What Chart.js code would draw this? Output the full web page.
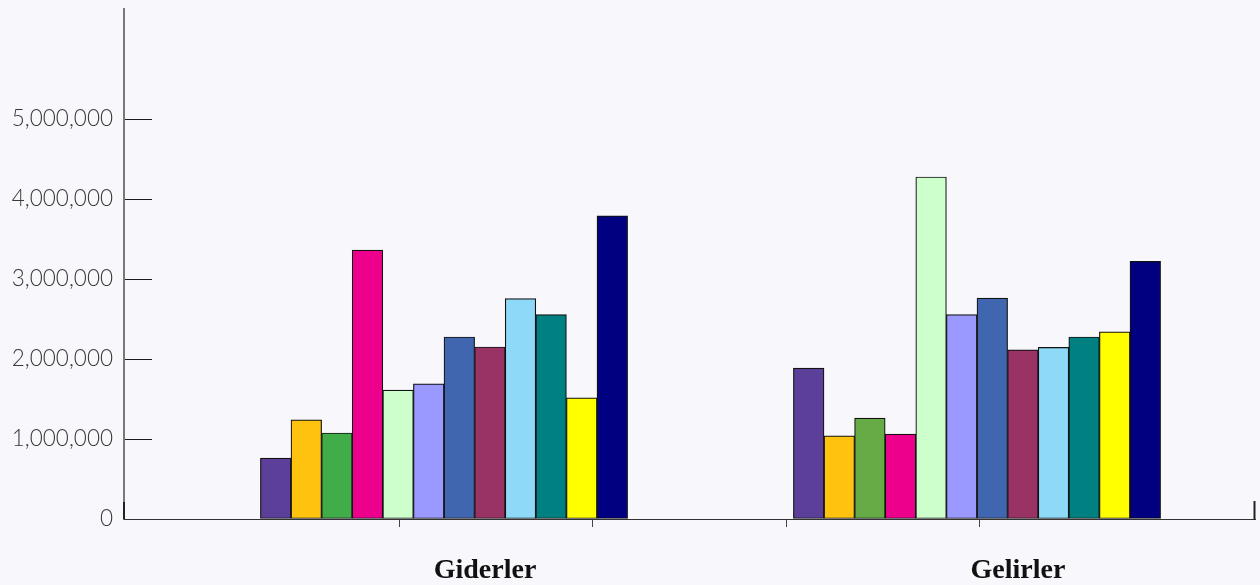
<!DOCTYPE html>
<html>
<head>
<meta charset="utf-8">
<script src="https://cdn.jsdelivr.net/npm/chart.js@4/dist/chart.umd.min.js"></script>
<style>
  html, body { margin: 0; padding: 0; background: #f8f8fc; }
  #wrap { width: 1260px; height: 585px; }
</style>
</head>
<body>
<div id="wrap"><canvas id="c" width="1260" height="585"></canvas></div>
<script>
// Categories along the x axis
const categories = ['Giderler', 'Gelirler'];

// Twelve budget items, one bar each per category
const itemNames = ['Kalem 1', 'Kalem 2', 'Kalem 3', 'Kalem 4', 'Kalem 5', 'Kalem 6',
                   'Kalem 7', 'Kalem 8', 'Kalem 9', 'Kalem 10', 'Kalem 11', 'Kalem 12'];

const giderler = [760000, 1240000, 1075000, 3360000, 1610000, 1690000,
                  2275000, 2150000, 2755000, 2555000, 1515000, 3790000];

const gelirler = [1885000, 1040000, 1260000, 1060000, 4275000, 2555000,
                  2760000, 2115000, 2145000, 2275000, 2340000, 3220000];

// Value axis tick labels
const yTicks = [0, 1000000, 2000000, 3000000, 4000000, 5000000];

// Minor tick marks under the category axis (in category-index units)
const xTickMarks = [-0.0844, 0.2795, 0.6435, 1.0056];

// Fill colour per item; the third item uses a slightly different green per category
const itemColors = [
  '#5b3f99', '#ffc20e', ['#41ad49', '#66ab45'], '#ec008c', '#ccffcc', '#9999ff',
  '#4066b0', '#993366', '#8ed8f8', '#008080', '#ffff00', '#000080'
];

const X_MIN = -0.6004, X_MAX = 1.5216;

const datasets = itemNames.map((name, i) => ({
  label: name,
  data: [{ x: 0, y: giderler[i] }, { x: 1, y: gelirler[i] }],
  backgroundColor: itemColors[i],
  borderColor: '#121212',
  borderWidth: 1.2,
  borderSkipped: false,
  barThickness: 30.6
}));

// Small closing strokes at both ends of the baseline
const frameEnds = {
  id: 'frameEnds',
  afterDraw(chart) {
    const { ctx, chartArea: a } = chart;
    ctx.save();
    ctx.strokeStyle = '#222';
    ctx.lineWidth = 2;
    ctx.beginPath();
    ctx.moveTo(a.right - 0.5, a.bottom - 18);
    ctx.lineTo(a.right - 0.5, a.bottom + 0.5);
    ctx.moveTo(a.left, a.bottom - 17);
    ctx.lineTo(a.left, a.bottom);
    ctx.stroke();
    ctx.restore();
  }
};

new Chart(document.getElementById('c'), {
  type: 'bar',
  data: { datasets },
  plugins: [frameEnds],
  options: {
    responsive: false,
    devicePixelRatio: 1,
    animation: false,
    layout: { padding: { top: 9, right: 5, left: 0, bottom: 0 } },
    plugins: { legend: { display: false }, tooltip: { enabled: false } },
    scales: {
      y: {
        type: 'linear',
        position: 'left',
        min: 0,
        max: 6375000,
        afterBuildTicks: s => { s.ticks = yTicks.map(v => ({ value: v })); },
        afterFit: s => { s.width = 124; s.paddingTop = 0; s.paddingBottom = 0; },
        border: { display: true, color: '#7a7a7a', width: 2 },
        grid: { drawOnChartArea: false, tickLength: -28, color: '#1a1a1a', lineWidth: 1 },
        ticks: {
          padding: 39,
          color: '#3a3a3a',
          font: { family: 'Lato', size: 22.5, weight: '300' },
          callback: v => Number(v).toLocaleString('en-US')
        }
      },
      x: {
        type: 'linear',
        position: 'bottom',
        weight: 0,
        min: X_MIN,
        max: X_MAX,
        offset: false,
        afterBuildTicks: s => { s.ticks = xTickMarks.map(v => ({ value: v })); },
        afterFit: s => { s.height = 8; },
        border: { display: true, color: '#333', width: 1 },
        grid: { drawOnChartArea: false, offset: false, tickLength: 8, color: '#444', lineWidth: 1 },
        ticks: { display: false, autoSkip: false }
      },
      xLabels: {
        type: 'linear',
        position: 'bottom',
        weight: 1,
        min: X_MIN,
        max: X_MAX,
        offset: false,
        afterBuildTicks: s => { s.ticks = categories.map((_, i) => ({ value: i })); },
        afterFit: s => { s.height = 58; },
        border: { display: false },
        grid: { display: false, drawTicks: false },
        ticks: {
          autoSkip: false,
          labelOffset: 41,
          padding: 27,
          color: '#111',
          font: { family: 'Liberation Serif', size: 28, weight: 'bold' },
          callback: v => categories[v]
        }
      }
    }
  }
});
</script>
</body>
</html>
